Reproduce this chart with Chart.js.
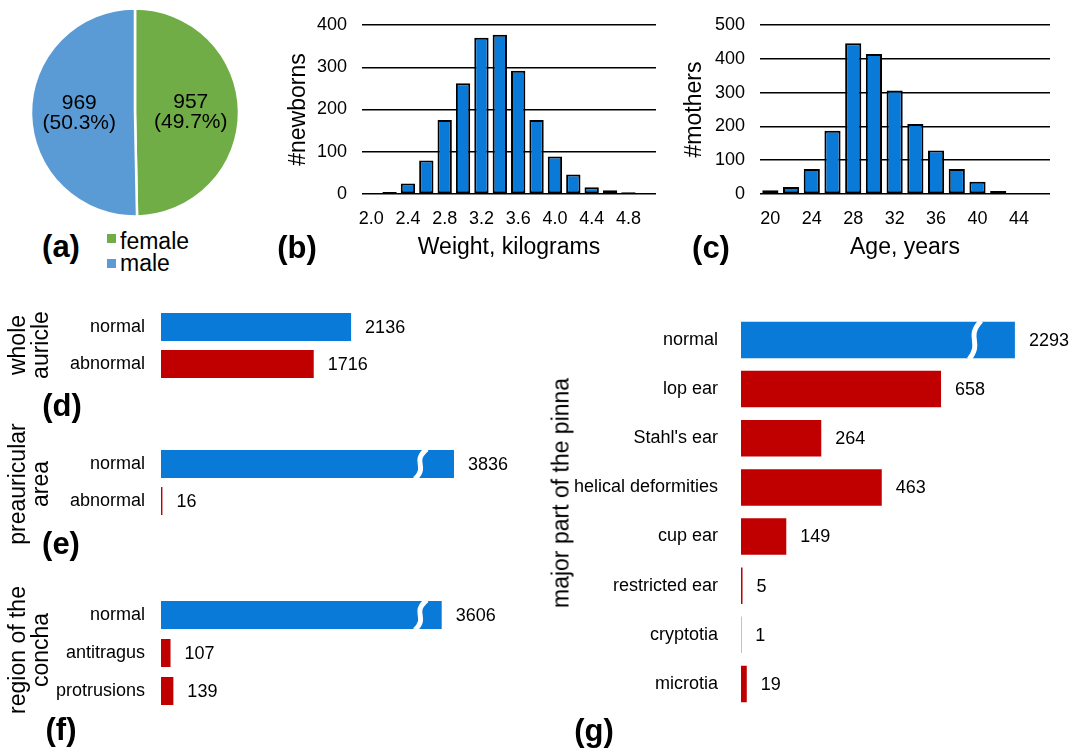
<!DOCTYPE html>
<html><head><meta charset="utf-8">
<script src="https://cdn.jsdelivr.net/npm/chart.js@4.4.1/dist/chart.umd.min.js"></script>
<style>
body{margin:0;background:#fff;width:1080px;height:750px;position:relative;overflow:hidden;font-family:"Liberation Sans",Arial,Helvetica,sans-serif;color:#000}
canvas{position:absolute}
.lbl{position:absolute;font-weight:bold;font-size:31px;line-height:1;transform:translate(-50%,-50%);white-space:nowrap}
.rt{position:absolute;font-size:23px;line-height:23px;white-space:pre;text-align:center;transform:translate(-50%,-50%) rotate(-90deg)}
.leg{position:absolute;font-size:23px;line-height:23px;white-space:nowrap}
.sq{position:absolute;width:9px;height:9px}
</style></head>
<body>
<canvas id="pie" width="270" height="225" style="left:0;top:0"></canvas>
<canvas id="wt" width="390" height="265" style="left:280px;top:0"></canvas>
<canvas id="age" width="384" height="265" style="left:680px;top:0"></canvas>
<canvas id="cd" width="520" height="90" style="left:0;top:300px"></canvas>
<canvas id="ce" width="520" height="95" style="left:0;top:430px"></canvas>
<canvas id="cf" width="520" height="135" style="left:0;top:580px"></canvas>
<canvas id="cg" width="515" height="414" style="left:560px;top:300px"></canvas>

<div class="sq" style="left:107px;top:234px;background:#70AD47"></div>
<div class="leg" style="left:120px;top:229.5px">female</div>
<div class="sq" style="left:107px;top:259px;background:#5B9BD5"></div>
<div class="leg" style="left:120px;top:251.5px">male</div>

<div class="lbl" style="left:61px;top:245.5px">(a)</div>
<div class="lbl" style="left:297px;top:246.5px">(b)</div>
<div class="lbl" style="left:711px;top:246.5px">(c)</div>
<div class="lbl" style="left:62px;top:404.5px">(d)</div>
<div class="lbl" style="left:61px;top:542.5px">(e)</div>
<div class="lbl" style="left:61px;top:728.5px">(f)</div>
<div class="lbl" style="left:594px;top:729.5px">(g)</div>

<div class="rt" style="left:28.5px;top:345px">whole
auricle</div>
<div class="rt" style="left:28.5px;top:484px">preauricular
area</div>
<div class="rt" style="left:28.5px;top:650px">region of the
concha</div>
<div class="rt" style="left:561px;top:493px">major part of the pinna</div>

<script>
// ---------- data ----------
const sexLabels = ['female', 'male'];
const sexCounts = [957, 969];

const weightBins = ['2.0','2.2','2.4','2.6','2.8','3.0','3.2','3.4','3.6','3.8','4.0','4.2','4.4','4.6','4.8','5.0'];
const newbornCounts = [2, 5, 25, 79, 175, 262, 370, 377, 292, 175, 89, 46, 16, 9, 4, null];
const weightTickLabels = ['2.0','2.4','2.8','3.2','3.6','4.0','4.4','4.8'];

const ageBins = ['20','22','24','26','28','30','32','34','36','38','40','42','44','46'];
const motherCounts = [11, 21, 74, 187, 446, 414, 306, 207, 129, 74, 36, 9, 3, 2];
const ageTickLabels = ['20','24','28','32','36','40','44'];

const auricleCats = ['normal', 'abnormal'];
const auricleCounts = [2136, 1716];
const auricleShown = [2136, 1716];

const preauricularCats = ['normal', 'abnormal'];
const preauricularCounts = [3836, 16];
const preauricularShown = [3292, 16];   // length drawn on the broken axis

const conchaCats = ['normal', 'antitragus', 'protrusions'];
const conchaCounts = [3606, 107, 139];
const conchaShown = [3154, 107, 139];   // length drawn on the broken axis

const pinnaCats = ['normal', 'lop ear', "Stahl's ear", 'helical deformities', 'cup ear', 'restricted ear', 'cryptotia', 'microtia'];
const pinnaCounts = [2293, 658, 264, 463, 149, 5, 1, 19];
const pinnaShown = [901, 658, 264, 463, 149, 5, 1, 19]; // length drawn on the broken axis

// ---------- setup ----------
const FONT = '"Liberation Sans", Arial, Helvetica, sans-serif';
Chart.defaults.font.family = FONT;
Chart.defaults.color = '#000';
const BLUE = '#0A7AD8';
const RED = '#C00000';

// pie labels
const pieLabels = {
  id: 'pieLabels',
  afterDatasetsDraw(chart) {
    const ctx = chart.ctx;
    const meta = chart.getDatasetMeta(0);
    const vals = chart.data.datasets[0].data;
    const total = vals.reduce((a, b) => a + b, 0);
    ctx.save();
    ctx.font = '21px ' + FONT;
    ctx.fillStyle = '#000';
    ctx.textAlign = 'center';
    ctx.textBaseline = 'middle';
    meta.data.forEach((arc, i) => {
      const p = arc.getProps(['x', 'y', 'startAngle', 'endAngle', 'outerRadius'], true);
      const a = (p.startAngle + p.endAngle) / 2;
      const r = p.outerRadius * 0.536;
      const cx = p.x + Math.cos(a) * r, cy = p.y + Math.sin(a) * r;
      ctx.fillText(String(vals[i]), cx, cy - 9.5);
      ctx.fillText('(' + (vals[i] / total * 100).toFixed(1) + '%)', cx, cy + 10);
    });
    ctx.restore();
  }
};

new Chart(document.getElementById('pie'), {
  type: 'pie',
  data: { labels: sexLabels, datasets: [{ data: sexCounts, backgroundColor: ['#70AD47', '#5B9BD5'], borderColor: '#fff', borderWidth: 2.5 }] },
  options: { responsive: false, animation: false, events: [], radius: 104,
    plugins: { legend: { display: false }, tooltip: { enabled: false } } },
  plugins: [pieLabels]
});

function hist(id, cats, vals, tickList, xTitle, yTitle, yMax, cfg) {
  new Chart(document.getElementById(id), {
    type: 'bar',
    data: { labels: cats, datasets: [{ data: vals, backgroundColor: BLUE, borderColor: '#000', borderWidth: 2, borderSkipped: false, barPercentage: 0.78, categoryPercentage: 1 }] },
    options: {
      responsive: false, animation: false, events: [],
      layout: { padding: { top: 25, right: cfg.pr, bottom: 0, left: 0 } },
      plugins: { legend: { display: false }, tooltip: { enabled: false } },
      scales: {
        x: {
          grid: { display: false }, border: { display: false },
          afterFit: s => { s.height = 71; },
          ticks: { autoSkip: false, maxRotation: 0, minRotation: 0, padding: 6, font: { size: 18 }, color: '#000',
            callback: function (v) { const l = this.getLabelForValue(v); return tickList.includes(l) ? l : ''; } },
          title: { display: true, text: xTitle, font: { size: 23 }, color: '#000', padding: { top: 0, bottom: 4 } }
        },
        y: {
          min: 0, max: yMax,
          ticks: { stepSize: 100, padding: 15, font: { size: 18 }, color: '#000' },
          grid: { color: '#000', lineWidth: 1.5, drawTicks: false },
          border: { display: false },
          afterFit: s => { s.width = cfg.yw; s.paddingTop = 0; s.paddingBottom = 0; },
          title: { display: true, text: yTitle, font: { size: 23 }, color: '#000', padding: { top: cfg.tp, bottom: 0 } }
        }
      }
    }
  });
}

hist('wt', weightBins, newbornCounts, weightTickLabels, 'Weight, kilograms', '#newborns', 400, { pr: 14, yw: 82, tp: 5 });
hist('age', ageBins, motherCounts, ageTickLabels, 'Age, years', '#mothers', 500, { pr: 14, yw: 80, tp: 1 });

const valueLabels = {
  id: 'valueLabels',
  afterDatasetsDraw(chart, args, opts) {
    const ctx = chart.ctx;
    const meta = chart.getDatasetMeta(0);
    ctx.save();
    ctx.font = '18px ' + FONT;
    ctx.fillStyle = '#000';
    ctx.textAlign = 'left';
    ctx.textBaseline = 'middle';
    meta.data.forEach((bar, i) => {
      const p = bar.getProps(['x', 'y'], true);
      ctx.fillText(String(opts.values[i]), p.x + opts.gap, p.y + 1);
    });
    ctx.restore();
  }
};

const axisBreak = {
  id: 'axisBreak',
  afterDatasetsDraw(chart, args, opts) {
    if (opts.at == null) return;
    const ctx = chart.ctx;
    const meta = chart.getDatasetMeta(0);
    const shown = chart.data.datasets[0].data;
    const x = chart.scales.x.getPixelForValue(opts.at);
    meta.data.forEach((bar, i) => {
      if (opts.values[i] === shown[i]) return;
      const p = bar.getProps(['y', 'height'], true);
      const top = p.y - p.height / 2 - 1, bottom = p.y + p.height / 2 + 1, h = bottom - top;
      ctx.save();
      ctx.strokeStyle = '#fff';
      ctx.lineWidth = 5;
      ctx.beginPath();
      ctx.moveTo(x + 6, top);
      ctx.bezierCurveTo(x - 10, top + h * 0.45, x + 8, top + h * 0.55, x - 6, bottom);
      ctx.stroke();
      ctx.restore();
    });
  }
};

function hbar(id, cats, shown, counts, cfg) {
  new Chart(document.getElementById(id), {
    type: 'bar',
    data: { labels: cats, datasets: [{ data: shown, backgroundColor: c => c.dataIndex === 0 ? BLUE : RED, borderWidth: 0, barPercentage: cfg.bp, categoryPercentage: 1 }] },
    options: {
      indexAxis: 'y', responsive: false, animation: false, events: [],
      layout: { padding: { top: cfg.pt, bottom: cfg.pb, left: 0, right: cfg.pr } },
      plugins: { legend: { display: false }, tooltip: { enabled: false },
        valueLabels: { values: counts, gap: cfg.gap }, axisBreak: { at: cfg.breakAt, values: counts } },
      scales: {
        x: { display: false, min: 0, max: cfg.max },
        y: { afterFit: s => { s.width = cfg.yw; s.paddingTop = 0; s.paddingBottom = 0; },
          grid: { display: false, drawTicks: false }, border: { display: false },
          ticks: { padding: cfg.tpad, color: '#000', font: { size: 18 } } }
      }
    },
    plugins: [valueLabels, axisBreak]
  });
}

hbar('cd', auricleCats, auricleShown, auricleCounts, { bp: 0.757, pt: 8.5, pb: 7.5, pr: 3, yw: 161, max: 4000, breakAt: null, tpad: 16, gap: 14 });
hbar('ce', preauricularCats, preauricularShown, preauricularCounts, { bp: 0.757, pt: 15.5, pb: 5.5, pr: 3, yw: 161, max: 4000, breakAt: 2920, tpad: 16, gap: 14 });
hbar('cf', conchaCats, conchaShown, conchaCounts, { bp: 0.737, pt: 16, pb: 5, pr: 3, yw: 161, max: 4000, breakAt: 2920, tpad: 16, gap: 14 });
hbar('cg', pinnaCats, pinnaShown, pinnaCounts, { bp: 0.743, pt: 15.4, pb: 5.5, pr: 30, yw: 181, max: 1000, breakAt: 770, tpad: 23, gap: 14 });
</script>
</body></html>
